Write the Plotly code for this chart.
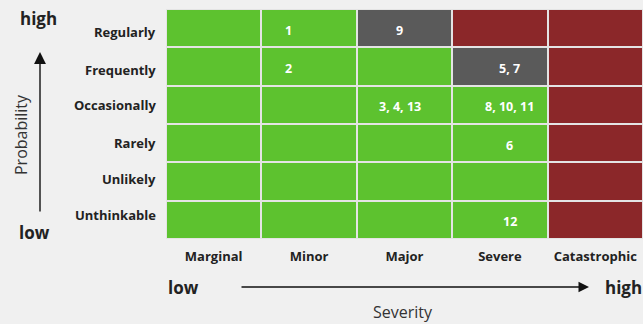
import plotly.graph_objects as go

severity = ["Marginal", "Minor", "Major", "Severe", "Catastrophic"]
probability = ["Unthinkable", "Unlikely", "Rarely", "Occasionally", "Frequently", "Regularly"]

# risk level: 0 = acceptable (green), 1 = watch (grey), 2 = unacceptable (red); rows bottom->top
risk_level = [
    [0, 0, 0, 0, 2],  # Unthinkable
    [0, 0, 0, 0, 2],  # Unlikely
    [0, 0, 0, 0, 2],  # Rarely
    [0, 0, 0, 0, 2],  # Occasionally
    [0, 0, 0, 1, 2],  # Frequently
    [0, 0, 1, 2, 2],  # Regularly
]
risk_ids = [
    ["", "", "", "12", ""],
    ["", "", "", "", ""],
    ["", "", "", "6", ""],
    ["", "", "3, 4, 13", "8, 10, 11", ""],
    ["", "2", "", "5, 7", ""],
    ["", "1", "9", "", ""],
]

GREEN = "#5dc22f"
GREY = "#5a5a5a"
RED = "#8b2729"
FONT = "Open Sans"
col_shift = [-35, -21, -5, 10, 24]
row_label_shift = [5, 3, 0, 0, -3, -4]

fig = go.Figure()
fig.add_trace(go.Heatmap(
    z=risk_level, x=severity, y=probability,
    zmin=0, zmax=2,
    colorscale=[[0, GREEN], [0.3333, GREEN], [0.3334, GREY], [0.6666, GREY], [0.6667, RED], [1, RED]],
    showscale=False, xgap=2, ygap=2, hoverinfo="skip",
))

ann = []
for r, row in enumerate(risk_ids):
    for c, t in enumerate(row):
        if t:
            ann.append(dict(x=severity[c], y=probability[r], text=t, showarrow=False,
                            xshift=col_shift[c], yshift=-2,
                            font=dict(family=FONT, size=12.5, color="white", weight="bold")))

# row labels (probability categories)
for r, name in enumerate(probability):
    ann.append(dict(xref="paper", x=0, y=name, text=name, showarrow=False,
                    xanchor="right", yanchor="middle", xshift=-8, yshift=row_label_shift[r],
                    font=dict(family=FONT, size=13, color="#222222", weight="bold")))

W, H = 477.0, 230.0
L, B = 166.0, 239.0
def px(x): return (x - L) / W
def py(y): return (B - y) / H

bold = dict(family=FONT, size=17, color="#222222", weight="bold")
def label(x, y, text, font, **kw):
    return dict(xref="paper", yref="paper", x=px(x), y=py(y), text=text, showarrow=False,
                xanchor="center", yanchor="middle", font=font, **kw)

ann += [
    label(38, 19, "high", bold),
    label(34, 232, "low", bold),
    label(21, 135, "Probability", dict(family=FONT, size=16, color="#333333"), textangle=-90),
    label(183, 287, "low", bold),
    label(623, 287, "high", bold),
    label(403, 312, "Severity", dict(family=FONT, size=16, color="#333333")),
    dict(xref="paper", yref="paper", x=px(589), y=py(287), ax=-349, ay=0, text="", showarrow=True,
         arrowhead=2, arrowsize=1.5, arrowwidth=1.4, arrowcolor="#111111"),
    dict(xref="paper", yref="paper", x=px(40), y=py(52), ax=0, ay=161, text="", showarrow=True,
         arrowhead=2, arrowsize=1.7, arrowwidth=1.4, arrowcolor="#111111"),
]

fig.update_layout(
    width=643, height=324,
    margin=dict(l=166, r=0, t=9, b=85),
    paper_bgcolor="#f0f0f0", plot_bgcolor="#e4e4e4",
    annotations=ann,
    font=dict(family=FONT),
)
fig.update_xaxes(showgrid=False, zeroline=False, ticks="", ticklabelstandoff=8,
                 tickfont=dict(family=FONT, size=13, color="#222222", weight="bold"))
fig.update_yaxes(showgrid=False, zeroline=False, ticks="", showticklabels=False)

fig.write_html("out.html")
